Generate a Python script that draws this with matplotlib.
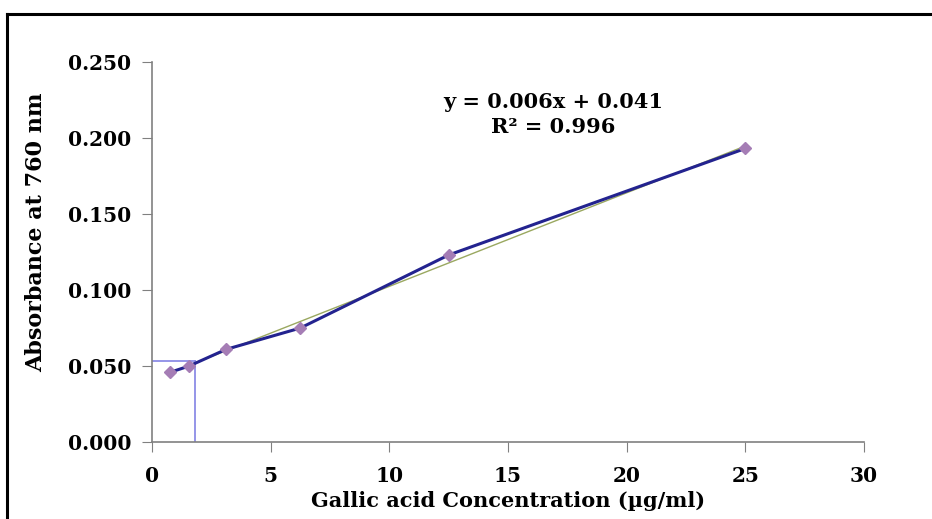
import numpy as np
import matplotlib
matplotlib.use("Agg")
import matplotlib.pyplot as plt
from matplotlib.lines import Line2D

# data
conc = [0.78, 1.56, 3.125, 6.25, 12.5, 25.0]
absb = [0.046, 0.050, 0.061, 0.075, 0.123, 0.193]
sample_x = 1.81
sample_y = 0.0533
eq_text = "y = 0.006x + 0.041"
r2_text = "R² = 0.996"
xticks = [0, 5, 10, 15, 20, 25, 30]
yticks = [0.0, 0.05, 0.10, 0.15, 0.20, 0.25]

plt.rcParams['font.family'] = ['DejaVu Serif', 'Liberation Serif']
plt.rcParams['font.weight'] = 'bold'

fig = plt.figure(figsize=(9.32, 5.19), dpi=100)
ax = fig.add_axes([0.163, 0.148, 0.764, 0.733])

# trend line
k, b = np.polyfit(conc, absb, 1)
xt = np.array([min(conc), max(conc)])
ax.plot(xt, k * xt + b, color='#9aa860', lw=1.0, zorder=2)

# data line
ax.plot(conc, absb, color='#23238f', lw=2.2, marker='D', ms=6.5,
        mfc='#a57db5', mec='#a57db5', zorder=3)

# sample reading guide lines
ax.plot([0, sample_x], [sample_y, sample_y], color='#8c8ce6', lw=1.3, zorder=1)
ax.plot([sample_x, sample_x], [0, sample_y], color='#8c8ce6', lw=1.3, zorder=1)

ax.set_xlim(0, 30)
ax.set_ylim(0, 0.25)
ax.set_xticks(xticks)
ax.set_yticks(yticks)
ax.set_yticklabels(["%.3f" % v for v in yticks])
ax.tick_params(axis='both', direction='out', length=7, color='#808080',
               labelsize=14.5)
ax.tick_params(axis='y', pad=8)
ax.tick_params(axis='x', pad=10)
for lab in ax.get_xticklabels() + ax.get_yticklabels():
    lab.set_fontweight('bold')

for s in ['top', 'right']:
    ax.spines[s].set_visible(False)
for s in ['left', 'bottom']:
    ax.spines[s].set_color('#808080')
    ax.spines[s].set_linewidth(1.2)

ax.set_xlabel("Gallic acid Concentration (µg/ml)", fontsize=15,
              fontweight='bold', labelpad=4)
ax.set_ylabel("Absorbance at 760 nm", fontsize=16, fontweight='bold')
ax.yaxis.set_label_coords(-0.147, 0.553)

ax.text(0.563, 0.895, eq_text, transform=ax.transAxes, ha='center',
        va='center', fontsize=15, fontweight='bold')
ax.text(0.563, 0.829, r2_text, transform=ax.transAxes, ha='center',
        va='center', fontsize=15, fontweight='bold')

# outer frame (top and left edges visible)
fig.add_artist(Line2D([7 / 932, 1.0], [1 - 14 / 519, 1 - 14 / 519],
                      transform=fig.transFigure, color='black', lw=2.2))
fig.add_artist(Line2D([7 / 932, 7 / 932], [0, 1 - 14 / 519],
                      transform=fig.transFigure, color='black', lw=2.2))

fig.savefig("out.png", dpi=100)
